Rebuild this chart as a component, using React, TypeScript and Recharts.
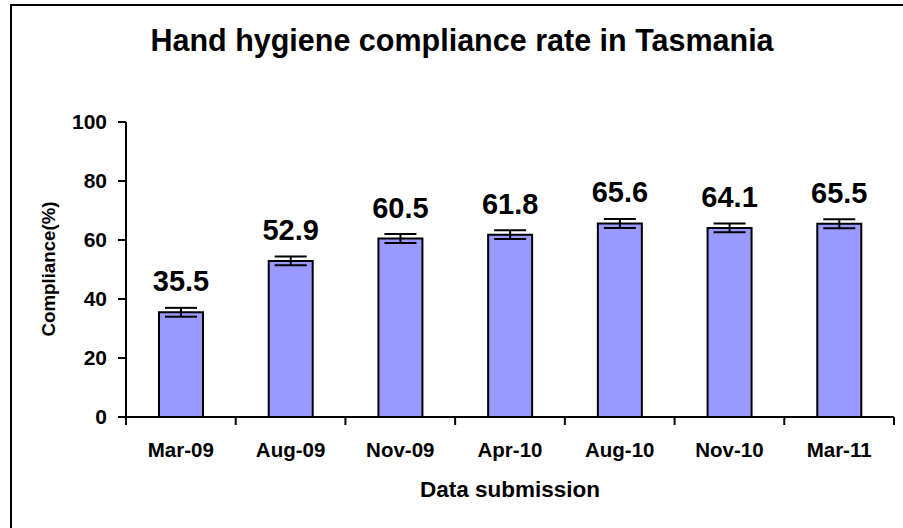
import { BarChart, Bar, XAxis, YAxis, ErrorBar, LabelList } from "recharts";

const categories = ["Mar-09", "Aug-09", "Nov-09", "Apr-10", "Aug-10", "Nov-10", "Mar-11"];
const complianceRates = [35.5, 52.9, 60.5, 61.8, 65.6, 64.1, 65.5];
const errorMargins = [1.5, 1.5, 1.5, 1.5, 1.5, 1.5, 1.5];
const yTicks = [0, 20, 40, 60, 80, 100];

const FONT = "'Liberation Sans', Arial, sans-serif";

const data = categories.map((name, i) => ({
  name,
  rate: complianceRates[i],
  err: errorMargins[i],
}));

// Excel puts the x tick marks between categories, not under the bars
const CategoryTick = (props: any) => {
  const { x, y, payload, width, visibleTicksCount, index } = props;
  const half = width / visibleTicksCount / 2;
  const axisY = y - 25;
  const isLast = index === visibleTicksCount - 1;
  return (
    <g>
      <line x1={x - half} x2={x - half} y1={axisY} y2={axisY + 8} stroke="#000" strokeWidth={2} />
      {isLast && (
        <line x1={x + half} x2={x + half} y1={axisY} y2={axisY + 8} stroke="#000" strokeWidth={2} />
      )}
      <text
        x={x}
        y={y}
        dy="0.71em"
        textAnchor="middle"
        fill="#000"
        fontSize={20.5}
        fontWeight="bold"
        fontFamily={FONT}
      >
        {payload.value}
      </text>
    </g>
  );
};

export default function App() {
  return (
    <div
      style={{
        position: "absolute",
        left: 0,
        top: 0,
        width: 903,
        height: 528,
        overflow: "hidden",
        background: "#fff",
      }}
    >
      <div
        style={{
          position: "absolute",
          left: 10,
          top: 4,
          width: 1200,
          height: 1200,
          border: "2px solid #000",
        }}
      />
      <div style={{ position: "absolute", left: 0, top: 0 }}>
        <BarChart
          width={903}
          height={528}
          data={data}
          margin={{ top: 122, right: 9, bottom: 81, left: 66 }}
          barSize={44}
        >
          <text
            x={462}
            y={51}
            textAnchor="middle"
            fontFamily={FONT}
            fontWeight="bold"
            fontSize={30.5}
            fill="#000"
          >
            Hand hygiene compliance rate in Tasmania
          </text>
          <text
            x={0}
            y={0}
            transform="translate(48, 269) rotate(-90)"
            textAnchor="middle"
            dominantBaseline="central"
            fontFamily={FONT}
            fontWeight="bold"
            fontSize={18.7}
            fill="#000"
          >
            Compliance(%)
          </text>
          <text
            x={510}
            y={497}
            textAnchor="middle"
            fontFamily={FONT}
            fontWeight="bold"
            fontSize={22.5}
            fill="#000"
          >
            Data submission
          </text>
          <XAxis
            dataKey="name"
            height={30}
            tickLine={false}
            tickSize={0}
            tickMargin={25}
            axisLine={{ stroke: "#000", strokeWidth: 2 }}
            tick={<CategoryTick />}
            interval={0}
          />
          <YAxis
            width={60}
            domain={[0, 100]}
            ticks={yTicks}
            tickSize={8}
            tickMargin={11}
            axisLine={{ stroke: "#000", strokeWidth: 2 }}
            tickLine={{ stroke: "#000", strokeWidth: 2 }}
            tick={{ fill: "#000", fontSize: 21, fontWeight: "bold", fontFamily: FONT }}
          />
          <Bar
            dataKey="rate"
            fill="#9999ff"
            stroke="#000"
            strokeWidth={2}
            isAnimationActive={false}
          >
            <ErrorBar dataKey="err" width={16} stroke="#000" strokeWidth={2} />
            <LabelList
              dataKey="rate"
              position="top"
              offset={21}
              fill="#000"
              fontSize={29}
              fontWeight="bold"
              fontFamily={FONT}
            />
          </Bar>
        </BarChart>
      </div>
    </div>
  );
}
